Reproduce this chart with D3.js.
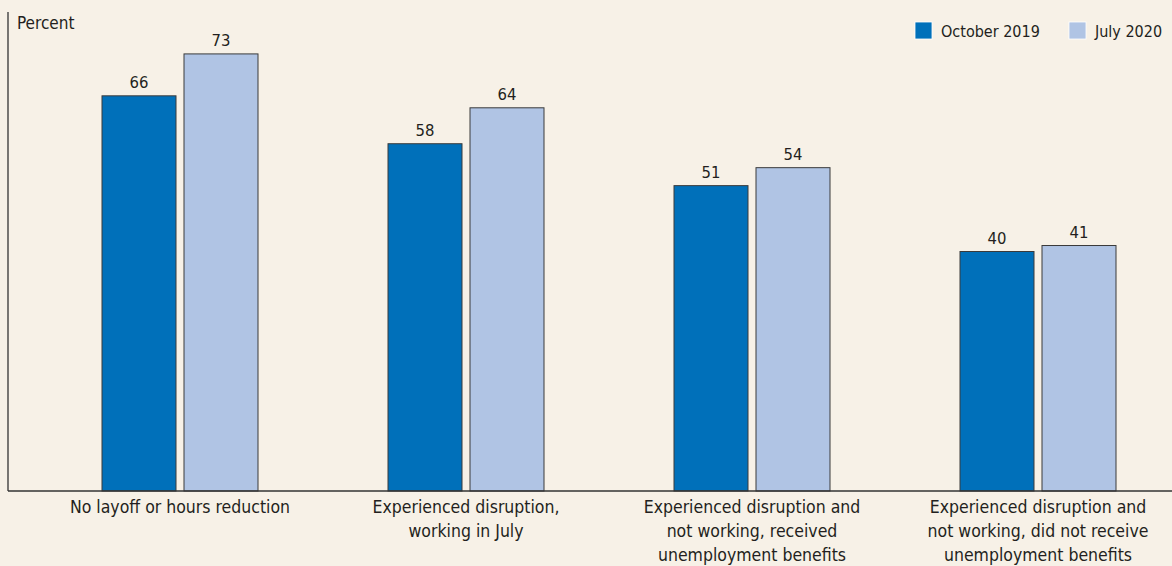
<!DOCTYPE html>
<html><head><meta charset="utf-8">
<script src="https://cdn.jsdelivr.net/npm/d3@7"></script>
<style>
html,body{margin:0;padding:0;background:#F7F1E7;}
svg text{font-family:"Liberation Sans Narrow","Arial Narrow","DejaVu Sans Condensed",sans-serif;fill:#231f20;}
</style></head><body>
<svg id="c" width="1172" height="566"></svg>
<script>
const categories = [
  ["No layoff or hours reduction"],
  ["Experienced disruption,", "working in July"],
  ["Experienced disruption and", "not working, received", "unemployment benefits"],
  ["Experienced disruption and", "not working, did not receive", "unemployment benefits"]
];
const seriesNames = ["October 2019", "July 2020"];
const oct2019 = [66, 58, 51, 40];
const jul2020 = [73, 64, 54, 41];
const colors = ["#0070BA", "#B0C4E4"];

const svg = d3.select("#c");
svg.append("rect").attr("width",1172).attr("height",566).attr("fill","#F7F1E7");

const x = d3.scaleBand().domain(d3.range(categories.length)).range([37, 1181]);
const y = d3.scaleLinear().domain([0, 80]).range([491, 12]);
const barW = 74, gap = 8;

const series = [oct2019, jul2020];
series.forEach((vals, si) => {
  const g = svg.append("g");
  vals.forEach((v, i) => {
    const cx = x(i) + x.bandwidth() / 2;
    const bx = si === 0 ? cx - gap / 2 - barW : cx + gap / 2;
    g.append("rect").attr("x", bx).attr("y", y(v)).attr("width", barW)
      .attr("height", y(0) - y(v)).attr("fill", colors[si])
      .attr("stroke", "#3a3a3a").attr("stroke-width", 1);
    g.append("text").attr("x", bx + barW / 2).attr("y", y(v) - 8)
      .attr("text-anchor", "middle").attr("font-size", 16.5).text(v);
  });
});

// axes
svg.append("line").attr("x1", 8).attr("x2", 8).attr("y1", 12).attr("y2", y(0))
  .attr("stroke", "#333").attr("stroke-width", 1.3);
svg.append("line").attr("x1", 8).attr("x2", 1172).attr("y1", y(0)).attr("y2", y(0))
  .attr("stroke", "#333").attr("stroke-width", 1.5);

// category labels
categories.forEach((lines, i) => {
  const cx = x(i) + x.bandwidth() / 2;
  const t = svg.append("text").attr("text-anchor", "middle").attr("font-size", 17.5);
  lines.forEach((l, j) => {
    t.append("tspan").attr("x", cx).attr("y", 513 + j * 24).text(l);
  });
});

svg.append("text").attr("x", 17).attr("y", 29).attr("font-size", 17).text("Percent");

// legend
const legX = [915, 1069];
seriesNames.forEach((n, i) => {
  svg.append("rect").attr("x", legX[i]).attr("y", 22).attr("width", 17).attr("height", 17)
    .attr("fill", colors[i]).attr("stroke", "#fff").attr("stroke-width", 0.8);
  svg.append("text").attr("x", legX[i] + 26).attr("y", 37).attr("font-size", 16).text(n);
});
</script></body></html>
